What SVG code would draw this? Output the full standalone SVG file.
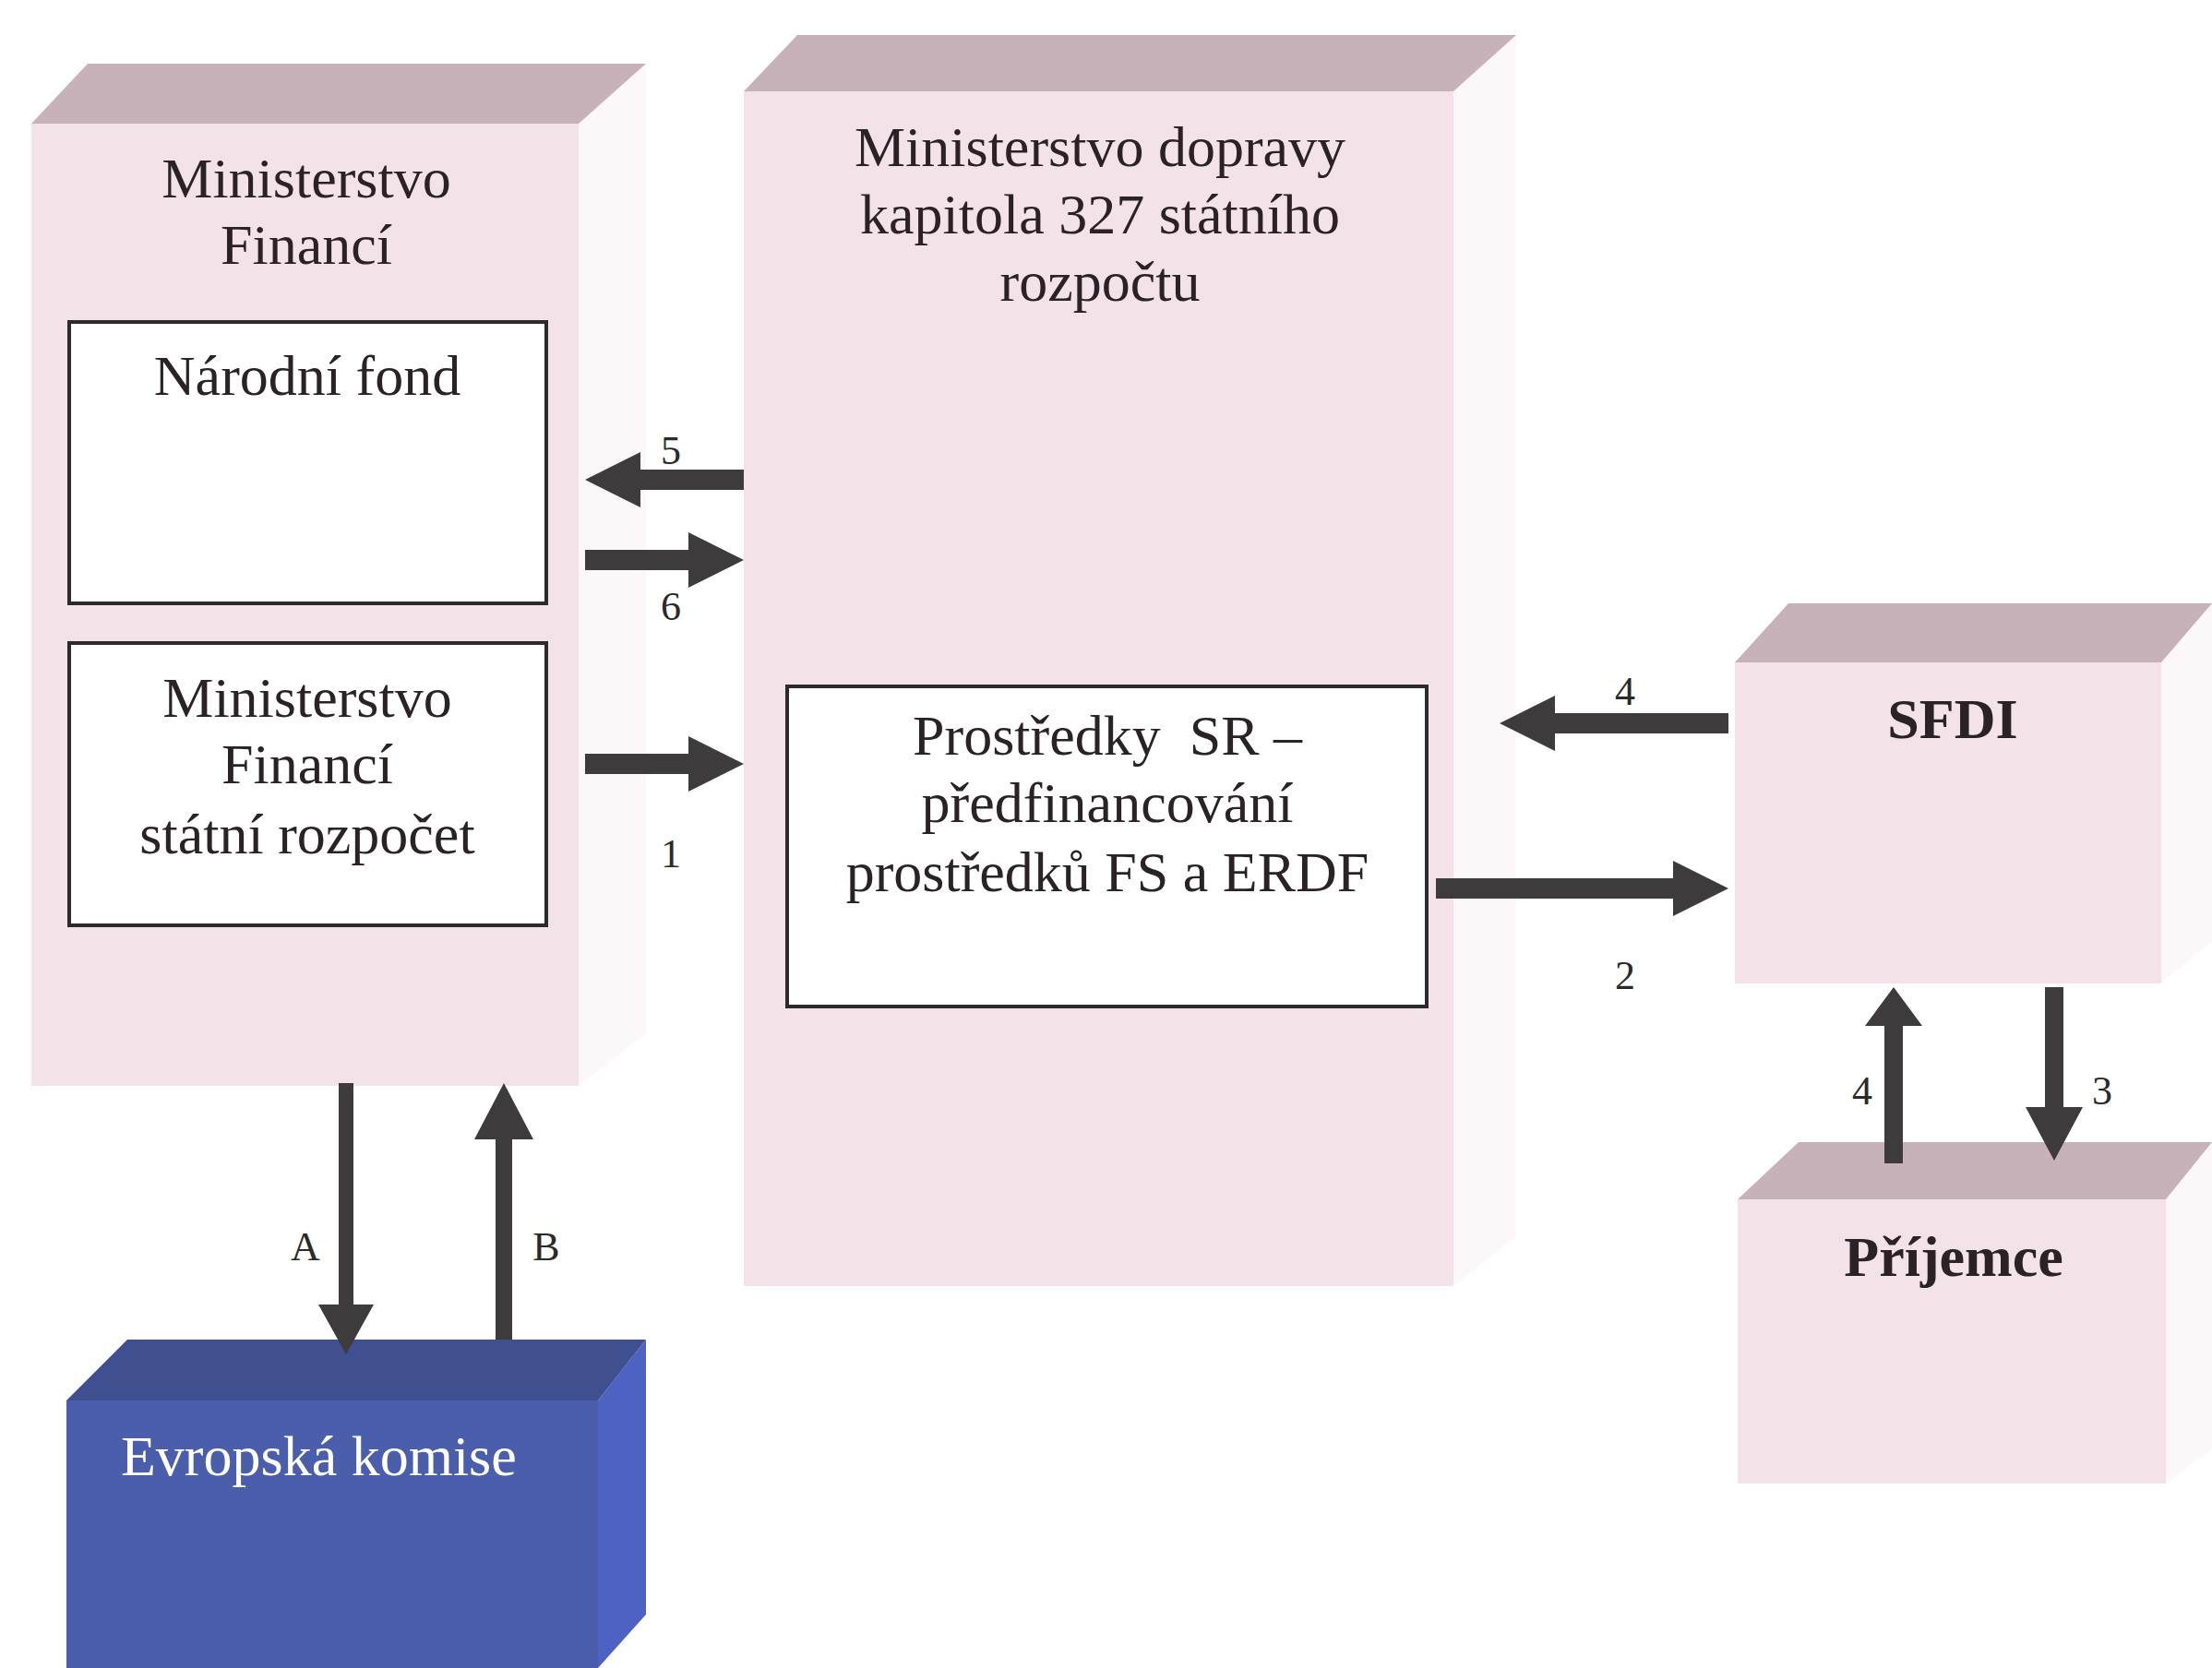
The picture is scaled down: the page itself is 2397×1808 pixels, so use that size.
<svg xmlns="http://www.w3.org/2000/svg" width="2397" height="1808" viewBox="0 0 2397 1808">
<style>
.front{fill:#f3e3e9}
.top{fill:#c7b2b9}
.side{fill:#fcf8f9}
.inner{fill:#ffffff;stroke:#2b2b2b;stroke-width:4}
.t{font-family:"Liberation Serif","Times New Roman",serif;font-size:62px;fill:#2a2226;text-anchor:middle}
.lbl{font-family:"Liberation Serif","Times New Roman",serif;font-size:44px;fill:#2a2a2a;text-anchor:middle}
.arr{fill:#3d3b3c}
</style>
<rect width="2397" height="1808" fill="#ffffff"/>

<g id="mf">
<polygon class="side" points="627,134 700,69 700,1120 627,1177"/>
<rect class="front" x="34" y="134" width="593" height="1043"/>
<polygon class="top" points="34,134 95,69 700,69 627,134"/>
<text class="t" x="332" y="214">Ministerstvo</text>
<text class="t" x="332" y="286">Financí</text>
</g>

<g id="narodni-fond">
<rect class="inner" x="75" y="349" width="517" height="305"/>
<text class="t" x="333" y="428">Národní fond</text>
</g>

<g id="mf-sr">
<rect class="inner" x="75" y="697" width="517" height="306"/>
<text class="t" x="333" y="777">Ministerstvo</text>
<text class="t" x="333" y="849">Financí</text>
<text class="t" x="333" y="925">státní rozpočet</text>
</g>

<g id="md">
<polygon class="side" points="1575,99 1643,38 1643,1340 1575,1394"/>
<rect class="front" x="806" y="99" width="769" height="1295"/>
<polygon class="top" points="806,99 864,38 1643,38 1575,99"/>
<text class="t" x="1192" y="180">Ministerstvo dopravy</text>
<text class="t" x="1192" y="253">kapitola 327 státního</text>
<text class="t" x="1192" y="326">rozpočtu</text>
</g>

<g id="prostredky">
<rect class="inner" x="853" y="744" width="693" height="347"/>
<text class="t" x="1200" y="818" xml:space="preserve">Prostředky  SR –</text>
<text class="t" x="1200" y="891">předfinancování</text>
<text class="t" x="1200" y="966">prostředků FS a ERDF</text>
</g>

<g id="sfdi">
<polygon class="side" points="2342,718 2397,654 2397,1020 2342,1066"/>
<rect class="front" x="1880" y="718" width="462" height="348"/>
<polygon class="top" points="1880,718 1938,654 2397,654 2342,718"/>
<text class="t" x="2116" y="800" font-weight="bold">SFDI</text>
</g>

<g id="prijemce">
<polygon class="side" points="2347,1300 2397,1238 2397,1570 2347,1608"/>
<rect class="front" x="1883" y="1300" width="464" height="308"/>
<polygon class="top" points="1883,1300 1949,1238 2397,1238 2347,1300"/>
<text class="t" x="2117" y="1383" font-weight="bold" font-size="58">Příjemce</text>
</g>

<g id="ek">
<polygon points="648,1518 700,1452 700,1750 648,1808" fill="#4d62c2"/>
<rect x="72" y="1518" width="576" height="290" fill="#4a5eac"/>
<polygon points="72,1518 138,1452 700,1452 648,1518" fill="#3f4f90"/>
<text class="t" x="131" y="1599" style="fill:#ffffff;text-anchor:start" font-size="63">Evropská komise</text>
</g>

<g id="connectors">
<polygon class="arr" points="806,509 694,509 694,490 634,520 694,550 694,531 806,531"/>
<polygon class="arr" points="634,596 746,596 746,577 806,607 746,637 746,618 634,618"/>
<polygon class="arr" points="634,817 746,817 746,798 806,828 746,858 746,839 634,839"/>
<polygon class="arr" points="1873,773 1685,773 1685,754 1625,784 1685,814 1685,795 1873,795"/>
<polygon class="arr" points="1556,952 1813,952 1813,933 1873,963 1813,993 1813,974 1556,974"/>
<polygon class="arr" points="2042,1261 2042,1112 2021,1112 2052,1070 2083,1112 2062,1112 2062,1261"/>
<polygon class="arr" points="2216,1070 2216,1200 2195,1200 2226,1258 2257,1200 2236,1200 2236,1070"/>
<polygon class="arr" points="367,1174 367,1414 345,1414 375,1468 405,1414 383,1414 383,1174"/>
<polygon class="arr" points="537,1452 537,1235 514,1235 546,1174 578,1235 555,1235 555,1452"/>
<text class="lbl" x="727" y="503">5</text>
<text class="lbl" x="727" y="672">6</text>
<text class="lbl" x="727" y="940">1</text>
<text class="lbl" x="1761" y="764">4</text>
<text class="lbl" x="1761" y="1072">2</text>
<text class="lbl" x="2018" y="1197">4</text>
<text class="lbl" x="2278" y="1197">3</text>
<text class="lbl" x="331" y="1366" font-size="40">A</text>
<text class="lbl" x="592" y="1366" font-size="40">B</text>
</g>
</svg>
